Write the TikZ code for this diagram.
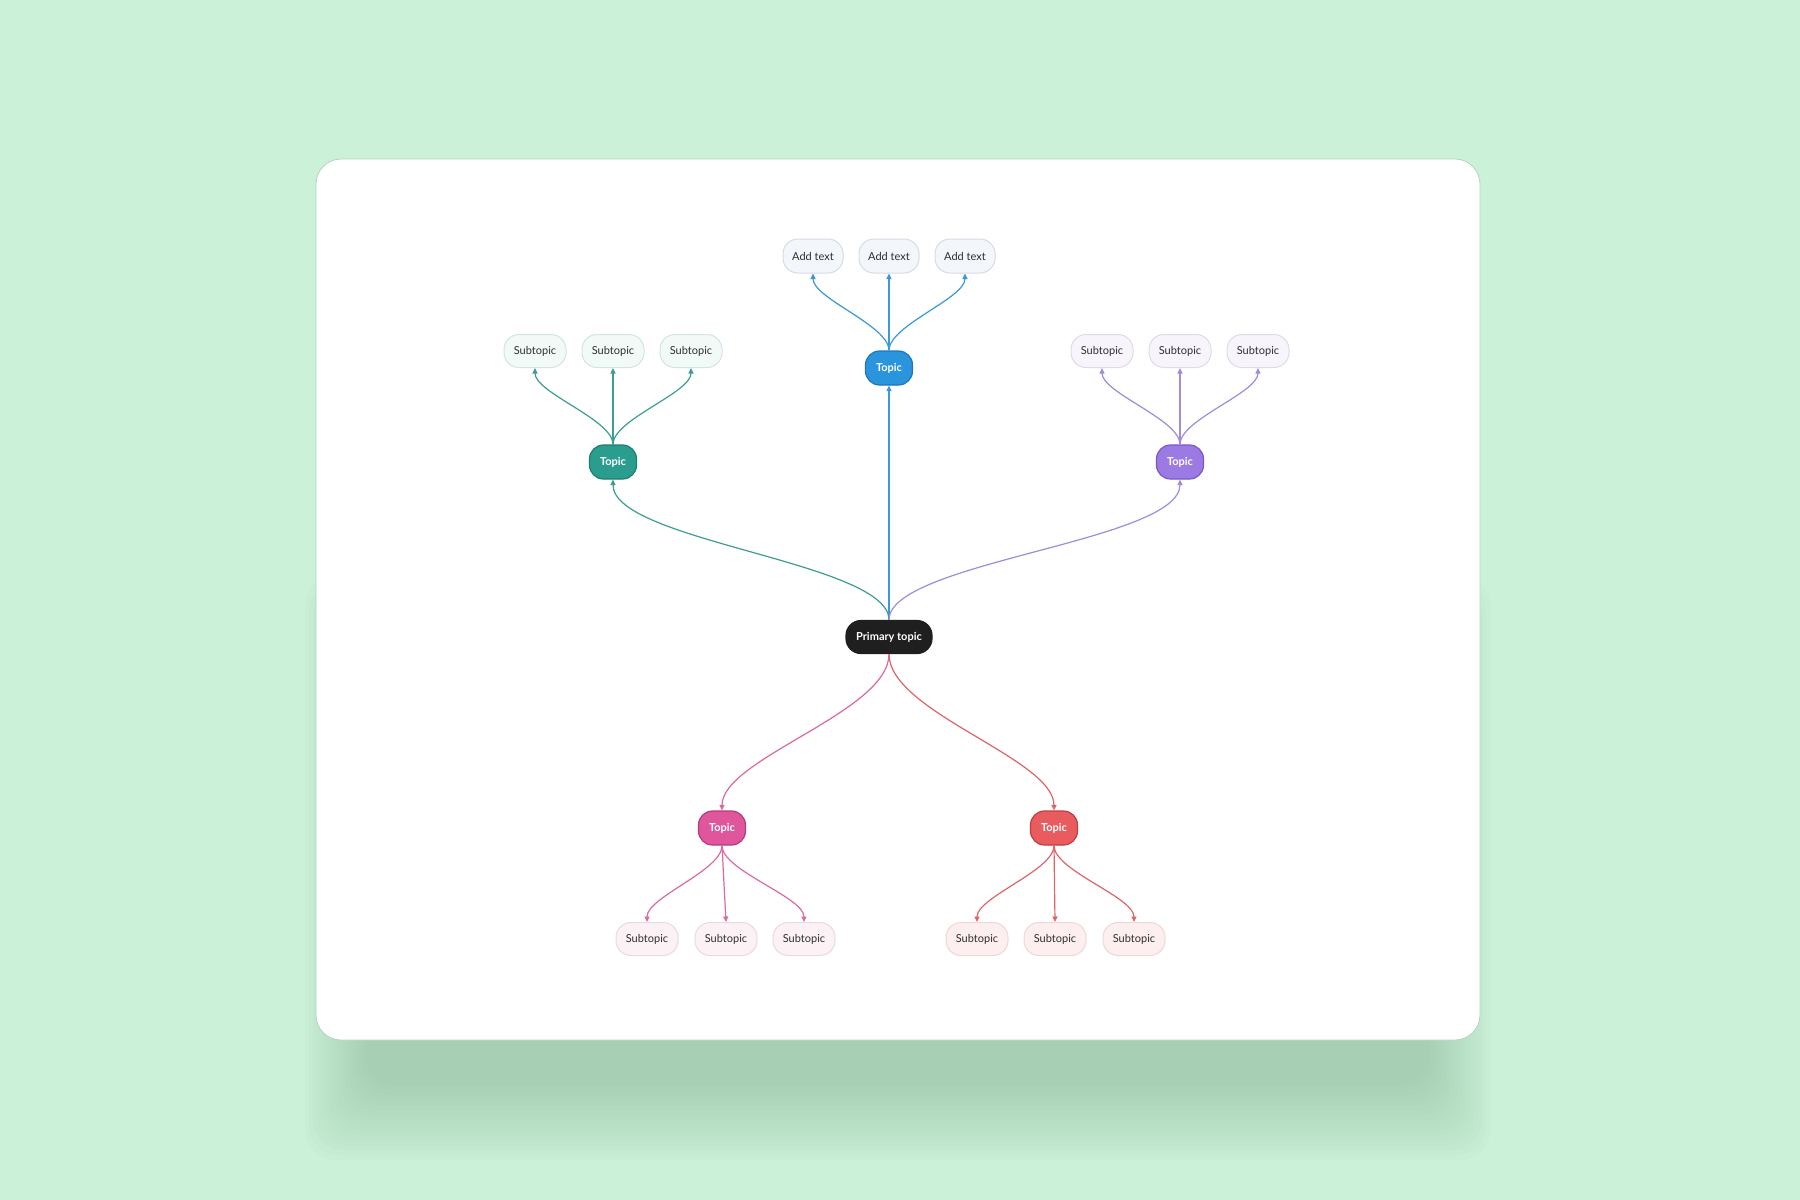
\documentclass[tikz,border=0pt]{standalone}
\usepackage{fontspec}
\setmainfont{Lato}
\usetikzlibrary{arrows.meta}

\definecolor{bgmint}{HTML}{CBF2D8}
\definecolor{shadowgreen}{HTML}{3F6B4F}
\definecolor{cardedge}{HTML}{B7D2C0}
\definecolor{subtext}{HTML}{2E2E2E}
\definecolor{primfill}{HTML}{1F1F1F}
\definecolor{tealfill}{HTML}{2A9D8E}
\definecolor{tealedge}{HTML}{1E7E72}
\definecolor{tealline}{HTML}{3C9E92}
\definecolor{tealsub}{HTML}{F1FAF7}
\definecolor{tealsubedge}{HTML}{D6E4DF}
\definecolor{bluefill}{HTML}{2A94DD}
\definecolor{blueedge}{HTML}{1F77B8}
\definecolor{blueline}{HTML}{3A9AD9}
\definecolor{bluesub}{HTML}{F3F6FB}
\definecolor{bluesubedge}{HTML}{D5DCE6}
\definecolor{purplefill}{HTML}{9B7AE3}
\definecolor{purpleedge}{HTML}{7B57C9}
\definecolor{purpleline}{HTML}{A08BDD}
\definecolor{purplesub}{HTML}{F7F5FB}
\definecolor{purplesubedge}{HTML}{DEDBE6}
\definecolor{pinkfill}{HTML}{E0569D}
\definecolor{pinkedge}{HTML}{B9397B}
\definecolor{pinkline}{HTML}{DB6AA2}
\definecolor{pinksub}{HTML}{FCF2F6}
\definecolor{pinksubedge}{HTML}{EAD9E0}
\definecolor{redfill}{HTML}{E85B5E}
\definecolor{rededge}{HTML}{C23C41}
\definecolor{redline}{HTML}{DE6468}
\definecolor{redsub}{HTML}{FDEFEF}
\definecolor{redsubedge}{HTML}{EED7D7}

\begin{document}
\begin{tikzpicture}[x = 1pt, y = -1pt, font = \fontsize{11}{13}\selectfont,
    topic/.style = {draw, line width = 1.2pt, rounded corners = 14pt, minimum width = 47pt,
        minimum height = 34pt, inner sep = 0pt, text = white, font = \fontsize{11}{13}\selectfont\bfseries},
    subnode/.style = {draw, line width = 1pt, rounded corners = 15pt, minimum width = 62pt,
        minimum height = 33pt, inner sep = 0pt, text = subtext},
    link/.style = {line width = 1.2pt, -{Triangle[length = 5.5pt, width = 5pt]}}]

        % background, shadow and card
        \fill [bgmint] (0,0) rectangle (1800,1200);
        \useasboundingbox (0,0) rectangle (1800,1200);
        \foreach \i in {0,...,15}
            \fill [shadowgreen, opacity = 0.016, rounded corners = 30pt]
                (365-4*\i,650-5*\i) rectangle (1430+4*\i,1085+5*\i);
        \draw [fill = white, draw = cardedge, line width = 0.8pt, rounded corners = 25pt]
            (316,159) rectangle (1480,1040);

        % topics
        \node [topic, fill = primfill, draw = primfill, minimum width = 86pt, minimum height = 33pt,
            rounded corners = 15pt] (prim) at (889,637) {Primary topic};
        \node [topic, fill = bluefill, draw = blueedge] (tBlue) at (889,368) {Topic};
        \node [topic, fill = tealfill, draw = tealedge] (tTeal) at (613,462) {Topic};
        \node [topic, fill = purplefill, draw = purpleedge] (tPurple) at (1180,462) {Topic};
        \node [topic, fill = pinkfill, draw = pinkedge] (tPink) at (722,828) {Topic};
        \node [topic, fill = redfill, draw = rededge] (tRed) at (1054,828) {Topic};

        % subtopics
        \node [subnode, fill = bluesub, draw = bluesubedge, minimum width = 60pt, minimum height = 34pt] (sBlue1) at (813,256) {Add text};
        \node [subnode, fill = bluesub, draw = bluesubedge, minimum width = 60pt, minimum height = 34pt] (sBlue2) at (889,256) {Add text};
        \node [subnode, fill = bluesub, draw = bluesubedge, minimum width = 60pt, minimum height = 34pt] (sBlue3) at (965,256) {Add text};

        \node [subnode, fill = tealsub, draw = tealsubedge] (sTeal1) at (535,351) {Subtopic};
        \node [subnode, fill = tealsub, draw = tealsubedge] (sTeal2) at (613,351) {Subtopic};
        \node [subnode, fill = tealsub, draw = tealsubedge] (sTeal3) at (691,351) {Subtopic};

        \node [subnode, fill = purplesub, draw = purplesubedge] (sPurple1) at (1102,351) {Subtopic};
        \node [subnode, fill = purplesub, draw = purplesubedge] (sPurple2) at (1180,351) {Subtopic};
        \node [subnode, fill = purplesub, draw = purplesubedge] (sPurple3) at (1258,351) {Subtopic};

        \node [subnode, fill = pinksub, draw = pinksubedge] (sPink1) at (647,939) {Subtopic};
        \node [subnode, fill = pinksub, draw = pinksubedge] (sPink2) at (726,939) {Subtopic};
        \node [subnode, fill = pinksub, draw = pinksubedge] (sPink3) at (804,939) {Subtopic};

        \node [subnode, fill = redsub, draw = redsubedge] (sRed1) at (977,939) {Subtopic};
        \node [subnode, fill = redsub, draw = redsubedge] (sRed2) at (1055,939) {Subtopic};
        \node [subnode, fill = redsub, draw = redsubedge] (sRed3) at (1134,939) {Subtopic};

        % primary to topics
        \draw [link, blueline] (prim.north) -- (tBlue.south);
        \draw [link, tealline] (prim.north) .. controls +(0,-58) and +(0,62) .. (tTeal.south);
        \draw [link, purpleline] (prim.north) .. controls +(0,-58) and +(0,62) .. (tPurple.south);
        \draw [link, pinkline] (prim.south) .. controls +(0,58) and +(0,-52) .. (tPink.north);
        \draw [link, redline] (prim.south) .. controls +(0,58) and +(0,-52) .. (tRed.north);

        % topics to subtopics
        \draw [link, blueline] (tBlue.north) .. controls +(0,-25) and +(0,25) .. (sBlue1.south);
        \draw [link, blueline] (tBlue.north) -- (sBlue2.south);
        \draw [link, blueline] (tBlue.north) .. controls +(0,-25) and +(0,25) .. (sBlue3.south);

        \draw [link, tealline] (tTeal.north) .. controls +(0,-25) and +(0,25) .. (sTeal1.south);
        \draw [link, tealline] (tTeal.north) -- (sTeal2.south);
        \draw [link, tealline] (tTeal.north) .. controls +(0,-25) and +(0,25) .. (sTeal3.south);

        \draw [link, purpleline] (tPurple.north) .. controls +(0,-25) and +(0,25) .. (sPurple1.south);
        \draw [link, purpleline] (tPurple.north) -- (sPurple2.south);
        \draw [link, purpleline] (tPurple.north) .. controls +(0,-25) and +(0,25) .. (sPurple3.south);

        \draw [link, pinkline] (tPink.south) .. controls +(0,25) and +(0,-25) .. (sPink1.north);
        \draw [link, pinkline] (tPink.south) -- (sPink2.north);
        \draw [link, pinkline] (tPink.south) .. controls +(0,25) and +(0,-25) .. (sPink3.north);

        \draw [link, redline] (tRed.south) .. controls +(0,25) and +(0,-25) .. (sRed1.north);
        \draw [link, redline] (tRed.south) -- (sRed2.north);
        \draw [link, redline] (tRed.south) .. controls +(0,25) and +(0,-25) .. (sRed3.north);
    \end{tikzpicture}
\end{document}
